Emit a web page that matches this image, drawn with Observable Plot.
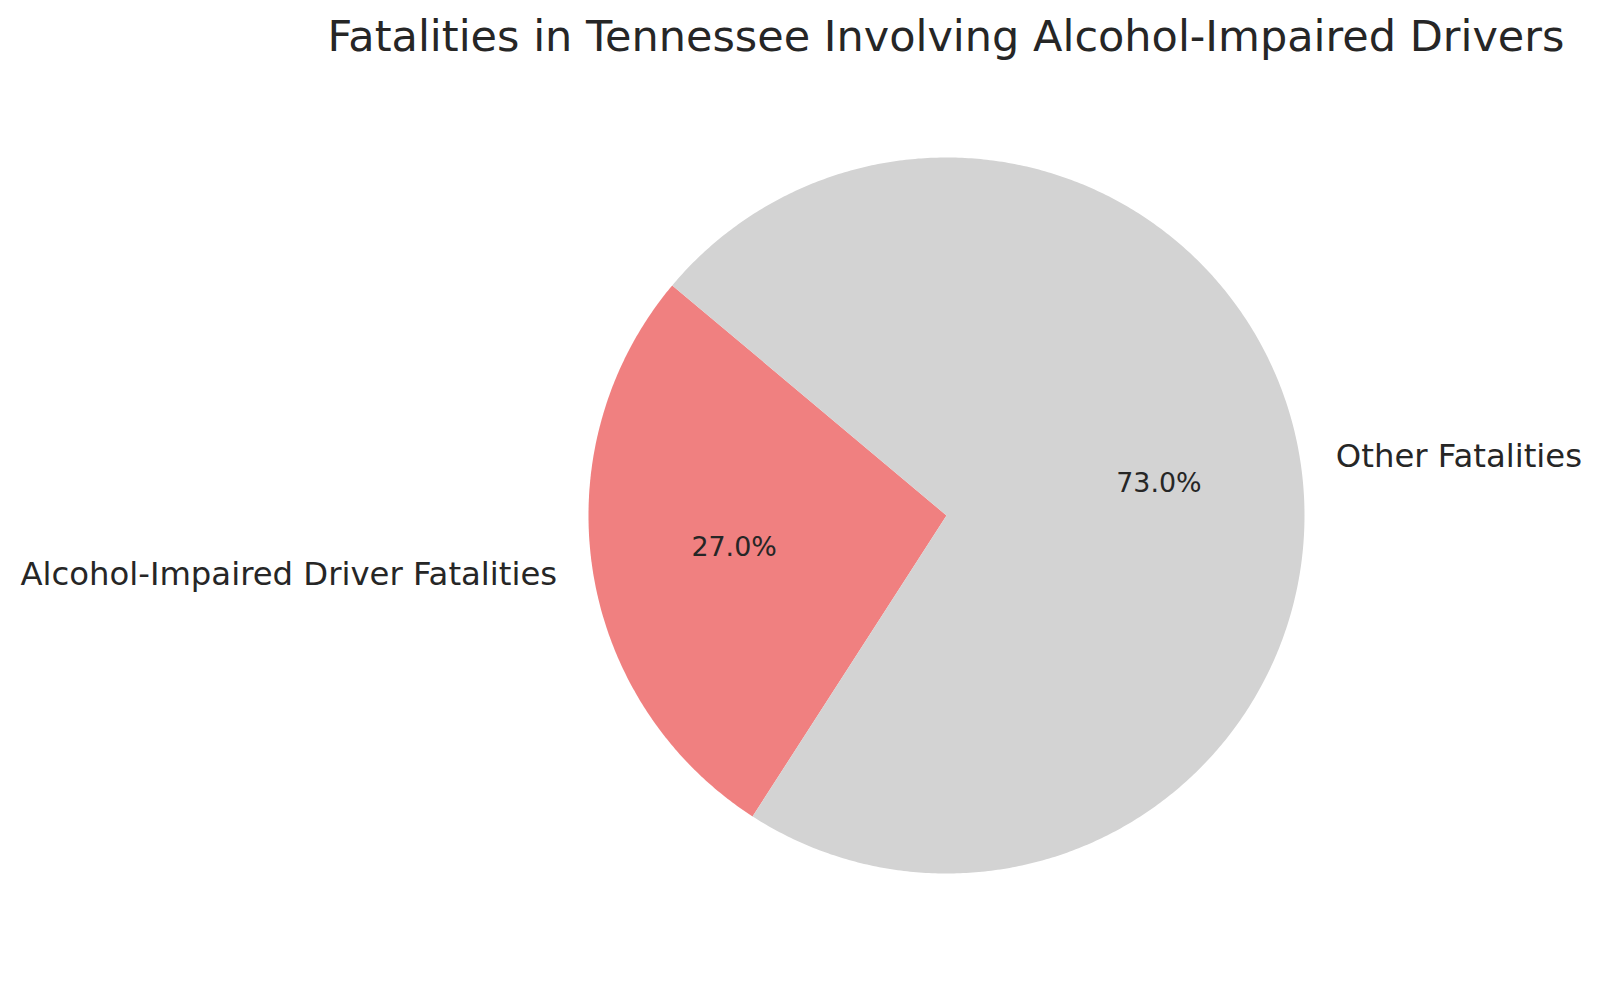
<!DOCTYPE html>
<html>
<head>
<meta charset="utf-8">
<script src="https://cdn.jsdelivr.net/npm/d3@7"></script>
<script src="https://cdn.jsdelivr.net/npm/@observablehq/plot@0.6"></script>
<style>
  html, body { margin: 0; padding: 0; background: #ffffff; overflow: hidden; }
  #title {
    box-sizing: border-box; width: 1600px; height: 76px;
    padding-left: 292px; padding-top: 15px;
    font-family: "DejaVu Sans", sans-serif; font-size: 43px; line-height: 43px;
    color: #262626; text-align: center; white-space: nowrap;
  }
</style>
</head>
<body>
<div id="title">Fatalities in Tennessee Involving Alcohol-Impaired Drivers</div>
<div id="chart"></div>
<script>
// ---- data ----
const categories = ["Alcohol-Impaired Driver Fatalities", "Other Fatalities"];
const shares = [27.0, 73.0];
const colors = ["#F08080", "#D3D3D3"];

// ---- layout ----
const W = 1600, H = 906;
const R = 358;               // pie radius in px
const cx = 946, cy = 439;    // pie centre in px (within the SVG)
const startAngle = 140;      // degrees, counter-clockwise from 3 o'clock

const total = d3.sum(shares);
let cum = 0;
const slices = categories.map((c, i) => {
  const a0 = startAngle + 360 * cum / total;
  cum += shares[i];
  const a1 = startAngle + 360 * cum / total;
  return {label: c, value: shares[i], color: colors[i], a0, a1, mid: (a0 + a1) / 2};
});

const rad = d => d * Math.PI / 180;
const polys = [];
for (const s of slices) {
  polys.push({label: s.label, color: s.color, x: 0, y: 0});
  const n = Math.ceil((s.a1 - s.a0) / 0.5);
  for (let k = 0; k <= n; k++) {
    const a = s.a0 + (s.a1 - s.a0) * k / n;
    polys.push({label: s.label, color: s.color, x: Math.cos(rad(a)), y: Math.sin(rad(a))});
  }
  polys.push({label: s.label, color: s.color, x: 0, y: 0});
}

const labels = slices.map(s => ({
  label: s.label,
  x: 1.1 * Math.cos(rad(s.mid)), y: 1.1 * Math.sin(rad(s.mid))
}));
const pcts = slices.map(s => ({
  text: (100 * s.value / total).toFixed(1) + "%",
  x: 0.6 * Math.cos(rad(s.mid)), y: 0.6 * Math.sin(rad(s.mid))
}));

const chart = Plot.plot({
  width: W, height: H,
  margin: 0,
  x: {domain: [-cx / R, (W - cx) / R], axis: null},
  y: {domain: [-(H - cy) / R, cy / R], axis: null},
  color: {type: "identity"},
  style: {fontFamily: "DejaVu Sans, sans-serif", color: "#262626", background: "#ffffff"},
  marks: [
    Plot.line(polys, {x: "x", y: "y", z: "label", fill: "color", stroke: null, curve: "linear"}),
    Plot.text(labels.filter(d => d.x >= 0), {x: "x", y: "y", text: "label", textAnchor: "start", fontSize: 32.3, fill: "#262626"}),
    Plot.text(labels.filter(d => d.x < 0), {x: "x", y: "y", text: "label", textAnchor: "end", fontSize: 32.3, fill: "#262626"}),
    Plot.text(pcts, {x: "x", y: "y", text: "text", fontSize: 26.9, fill: "#262626"})
  ]
});
document.getElementById("chart").appendChild(chart);
</script>
</body>
</html>
